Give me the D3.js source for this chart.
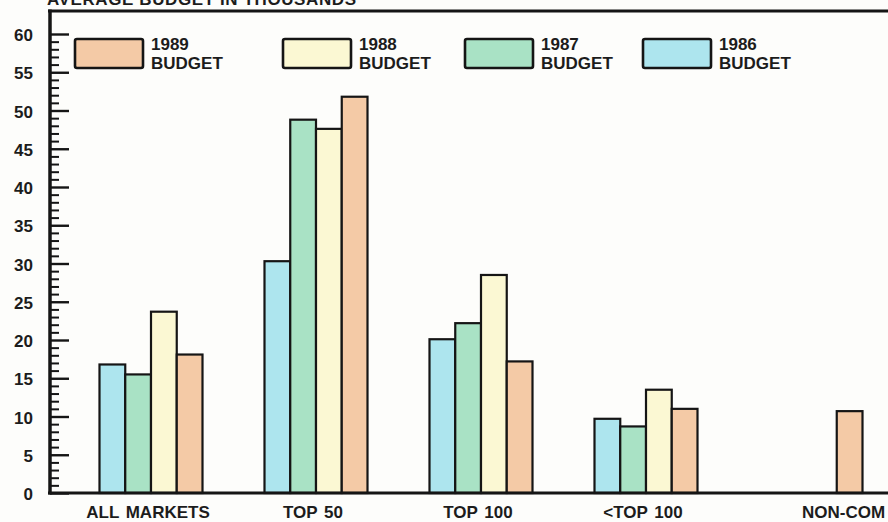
<!DOCTYPE html>
<html>
<head>
<meta charset="utf-8">
<script src="https://cdn.jsdelivr.net/npm/d3@7"></script>
<style>
  html, body { margin: 0; padding: 0; background: #fdfdfb; }
  svg { display: block; }
  text { font-family: "Liberation Sans", Arial, Helvetica, sans-serif; font-weight: bold; fill: #1c1c1c; }
</style>
</head>
<body>
<svg id="chart" width="888" height="522"></svg>
<script>
// Market groups along the x axis
const categories = ["ALL MARKETS", "TOP 50", "TOP 100", "<TOP 100", "NON-COM"];

// Budget series (thousands), in drawing order inside each group
const seriesKeys = ["1986", "1987", "1988", "1989"];
const budget1986 = [16.8, 30.3, 20.1, 9.7, null];
const budget1987 = [15.5, 48.8, 22.2, 8.7, null];
const budget1988 = [23.7, 47.6, 28.5, 13.5, null];
const budget1989 = [18.1, 51.8, 17.2, 11.0, 10.7];

// Legend order, left to right
const legendKeys = ["1989", "1988", "1987", "1986"];
const yTicks = [0, 5, 10, 15, 20, 25, 30, 35, 40, 45, 50, 55, 60];

const seriesValues = { "1986": budget1986, "1987": budget1987, "1988": budget1988, "1989": budget1989 };
const colors = { "1986": "#ade5ee", "1987": "#a9e2c5", "1988": "#fbf8d3", "1989": "#f4caa6" };

const svg = d3.select("#chart");
const W = 888, H = 522;
const axisX = 50, topY = 11, baseY = 493;

const y = d3.scaleLinear().domain([0, 60]).range([baseY, 34]);
const x0 = d3.scaleBand().domain(categories).range([68.5, 893.5]).padding(0);
const groupW = 103;
const x1 = d3.scaleBand().domain(seriesKeys)
  .range([(x0.bandwidth() - groupW) / 2, (x0.bandwidth() + groupW) / 2]).padding(0);

// Title above the frame (runs off the top edge)
svg.append("text")
  .attr("x", 47).attr("y", 5)
  .attr("font-size", 17)
  .attr("letter-spacing", 0.6)
  .text("AVERAGE BUDGET IN THOUSANDS");

// Bars
const rows = [];
categories.forEach((c, i) => {
  seriesKeys.forEach(k => {
    const v = seriesValues[k][i];
    if (v != null) rows.push({ cat: c, key: k, value: v });
  });
});

svg.append("g").selectAll("rect").data(rows).join("rect")
  .attr("x", d => x0(d.cat) + x1(d.key))
  .attr("y", d => y(d.value))
  .attr("width", x1.bandwidth())
  .attr("height", d => y(0) - y(d.value))
  .attr("fill", d => colors[d.key])
  .attr("stroke", "#151515")
  .attr("stroke-width", 2.2);

// Category labels, centred under the bars drawn in each group
const labelPos = categories.map(c => {
  const present = rows.filter(r => r.cat === c);
  const cx = d3.mean(present, r => x0(r.cat) + x1(r.key) + x1.bandwidth() / 2);
  return { cat: c, cx };
});
svg.append("g").selectAll("text").data(labelPos).join("text")
  .attr("x", (d, i) => i === categories.length - 1 ? d.cx - 6 : d.cx - 3)
  .attr("y", 518)
  .attr("text-anchor", "middle")
  .attr("font-size", 17)
  .attr("word-spacing", 2)
  .text(d => d.cat);

// Y axis: major ticks every 5, minor every 1, drawn on the inside
const yAxis = d3.axisRight(y).tickValues(yTicks).tickSize(19).tickFormat("");
const gy = svg.append("g").attr("transform", `translate(${axisX},0)`).call(yAxis);
gy.select(".domain").remove();
gy.selectAll(".tick line").attr("stroke", "#151515").attr("stroke-width", 2.4);

const yMinor = d3.axisRight(y).tickValues(d3.range(0, 61).filter(v => v % 5 !== 0)).tickSize(9).tickFormat("");
const gm = svg.append("g").attr("transform", `translate(${axisX},0)`).call(yMinor);
gm.select(".domain").remove();
gm.selectAll(".tick line").attr("stroke", "#151515").attr("stroke-width", 2);

svg.append("g").selectAll("text").data(yTicks).join("text")
  .attr("x", 33)
  .attr("y", d => y(d) + 7)
  .attr("text-anchor", "end")
  .attr("font-size", 17)
  .text(d => d);

// Frame: top rule, left axis, baseline
svg.append("line").attr("x1", axisX - 2).attr("x2", W).attr("y1", topY).attr("y2", topY)
  .attr("stroke", "#151515").attr("stroke-width", 3);
svg.append("line").attr("x1", axisX).attr("x2", axisX).attr("y1", topY - 1.5).attr("y2", baseY + 1.5)
  .attr("stroke", "#151515").attr("stroke-width", 3.5);
svg.append("line").attr("x1", axisX - 2).attr("x2", W).attr("y1", baseY).attr("y2", baseY)
  .attr("stroke", "#151515").attr("stroke-width", 3.2);

// Legend
const legendX = [75, 283, 465, 643];
const lg = svg.append("g").selectAll("g").data(legendKeys).join("g")
  .attr("transform", (d, i) => `translate(${legendX[i]},39)`);
lg.append("rect")
  .attr("width", 68).attr("height", 29).attr("rx", 2)
  .attr("fill", d => colors[d])
  .attr("stroke", "#151515").attr("stroke-width", 2.6);
lg.append("text").attr("x", 76).attr("y", 11).attr("font-size", 17).text(d => d);
lg.append("text").attr("x", 76).attr("y", 30).attr("font-size", 17).text("BUDGET");
</script>
</body>
</html>
